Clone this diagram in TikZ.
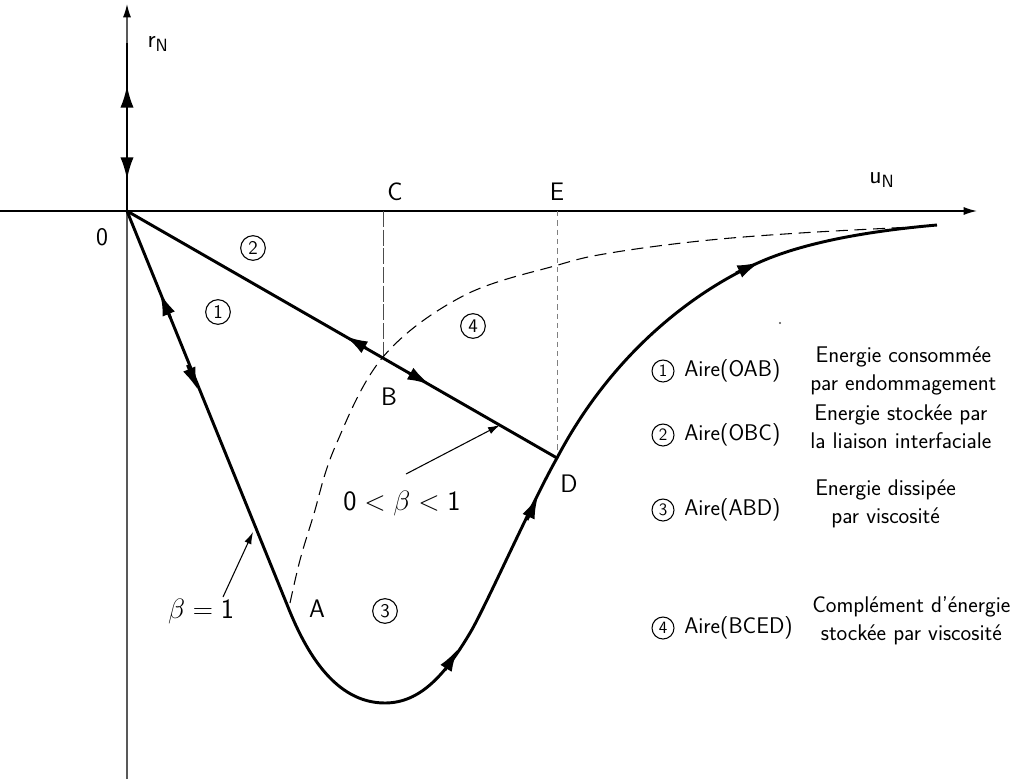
\RequirePackage{fix-cm}
\documentclass[tikz,border=0pt]{standalone}
\usepackage{fontspec}
\usetikzlibrary{arrows.meta}
\begin{document}
\begin{tikzpicture}[x=0.75pt,y=-0.75pt,
  curve/.style={line width=2.2pt},
  tipA/.style={-{Latex[length=17pt,width=10pt]}, line width=2.2pt},
  thinarrow/.style={line width=0.8pt, -{Latex[length=9pt,width=5.5pt]}},
  ptlabel/.style={font=\sffamily\fontsize{19}{22}\selectfont, inner sep=0pt},
  axlabel/.style={font=\sffamily\fontsize{19}{22}\selectfont, inner sep=0pt},
  betalabel/.style={font=\sffamily\fontsize{21}{24}\selectfont, inner sep=0pt},
  zone/.style={circle, draw, line width=0.8pt, inner sep=0pt, minimum size=18.5pt, font=\sffamily\fontsize{14.5}{15}\selectfont},
  legnum/.style={circle, draw, line width=0.8pt, inner sep=0pt, minimum size=16.5pt, font=\sffamily\fontsize{13}{13}\selectfont},
  legtxt/.style={font=\sffamily\fontsize{17}{21}\selectfont, inner sep=0pt},
  legdesc/.style={legtxt, align=center, anchor=west},
  dashcurve/.style={line width=0.8pt, dash pattern=on 9pt off 5pt},
  dashC/.style={line width=0.6pt, black!70, dash pattern=on 12pt off 2pt},
  dashE/.style={line width=0.7pt, gray, dash pattern=on 4pt off 3pt},
]
\useasboundingbox (0,0) rectangle (1029,779);
% key points
\coordinate (O) at (127,211);
\coordinate (Ybot) at (127,779);
\coordinate (Ytop) at (127,4);
\coordinate (Xl) at (0,211);
\coordinate (Xr) at (977,211);
\coordinate (Vtop) at (127,43);
\coordinate (A) at (288,607);
\coordinate (Bot) at (385,703);
\coordinate (P1) at (470,633);
\coordinate (B) at (383,357.8);
\coordinate (D) at (557,458);
\coordinate (P2) at (760,262);
\coordinate (End) at (937,225);
\coordinate (C) at (383,211);
\coordinate (E) at (557,211);
% axes
\draw[line width=1pt, gray!70!black, -{Latex[length=10pt,width=6pt,color=black]}] (Ybot) -- (Ytop);
\draw[line width=1pt, -{Latex[length=10pt,width=6pt]}] (Xl) -- (Xr);
% dashed verticals
\draw[dashC] (C) -- (B);
\draw[dashE] (E) -- (D);
% dashed curve
\draw[dashcurve] plot[smooth, tension=0.6] coordinates {(290,603) (300,560) (313,517) (335,447) (383,357) (463,296) (558,265) (610,253) (700,241) (800,233) (933,226)};
% thick vertical
\draw[curve] (O) -- (Vtop);
\draw[tipA] (127,110) -- (127,85);
\draw[tipA] (127,155) -- (127,180);
% OD line
\draw[curve] (O) -- (D);
\draw[tipA] (366,348) -- (345,336);
\draw[tipA] (409,373) -- (430,384.7);
% main curve
\draw[curve] (O) -- (A) .. controls (306,652) and (335,703) .. (Bot)
  .. controls (420,703) and (445,675) .. (P1)
  .. controls (485,608) and (532,502) .. (D)
  .. controls (617,344) and (705,286) .. (P2)
  .. controls (810,240) and (880,230) .. (End);
\draw[tipA] (170.5,318) -- (160,293);
\draw[tipA] (187.5,365) -- (198,390);
\draw[tipA] (445,670) -- (458,649);
\draw[tipA] (527,520) -- (538,496);
\draw[tipA] (736,273) -- (760,262);
% annotation arrows
\coordinate (b1s) at (223,597);
\coordinate (b1t) at (253,532);
\coordinate (b2s) at (406,474);
\coordinate (b2t) at (500,425);
\draw[thinarrow] (b1s) -- (b1t);
\draw[thinarrow] (b2s) -- (b2t);
\fill[gray!60!black] (780,323) circle (0.8pt);
% labels
\node[axlabel] (rN) at (158,44) {r\textsubscript{N}};
\node[axlabel] (uN) at (882,180) {u\textsubscript{N}};
\node[ptlabel] (l0) at (102,237) {0};
\node[ptlabel] (lC) at (395,192) {C};
\node[ptlabel] (lE) at (557,192) {E};
\node[ptlabel] (lB) at (389,397) {B};
\node[ptlabel] (lA) at (317,609) {A};
\node[ptlabel] (lD) at (569,484) {D};
\node[betalabel] (beta1) at (201,611) {$\beta=\mathsf{1}$};
\node[betalabel] (beta2) at (402,503) {$\mathsf{0}<\beta<\mathsf{1}$};
\node[zone] (z1) at (218,312) {1};
\node[zone] (z2) at (253,248) {2};
\node[zone] (z3) at (385,611) {3};
\node[zone] (z4) at (473,326) {4};
% legend
\node[legnum] (n1) at (663,371) {1};
\node[legtxt, anchor=west] (a1) at (684,371) {Aire(OAB)};
\node[legdesc] (d1) at (810,371) {Energie consommée\\par endommagement};
\node[legnum] (n2) at (663,435) {2};
\node[legtxt, anchor=west] (a2) at (684,435) {Aire(OBC)};
\node[legdesc] (d2) at (810,427) {Energie stockée par\\la liaison interfaciale};
\node[legnum] (n3) at (663,510) {3};
\node[legtxt, anchor=west] (a3) at (684,510) {Aire(ABD)};
\node[legdesc] (d3) at (815,504) {Energie dissipée\\par viscosité};
\node[legnum] (n4) at (663,628) {4};
\node[legtxt, anchor=west] (a4) at (684,628) {Aire(BCED)};
\node[legdesc] (d4) at (812,621) {Complément d'énergie\\stockée par viscosité};
\end{tikzpicture}
\end{document}
